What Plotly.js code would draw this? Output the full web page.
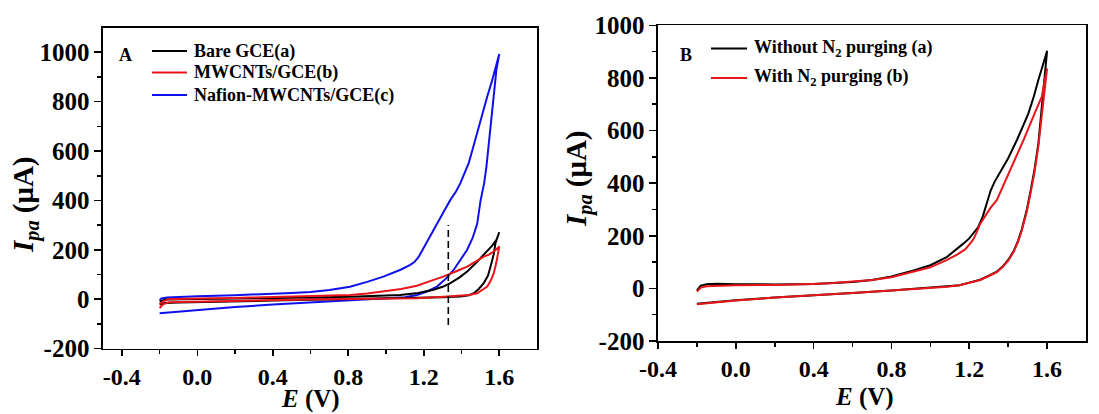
<!DOCTYPE html>
<html><head><meta charset="utf-8">
<script src="https://cdn.plot.ly/plotly-3.0.1.min.js"></script>
<style>html,body{margin:0;padding:0;background:#fff;}#chart{width:1099px;height:414px;}</style>
</head><body><div id="chart"></div>
<script>
// ---------- Panel A data (E in V, I in µA) ----------
const bareGceE = [-0.2,-0.17,-0.1,0.0,0.2,0.4,0.6,0.8,1.0,1.2,1.3,1.394,1.44,1.465,1.49,1.518,1.54,1.554,1.57,1.58,1.6,
  1.585,1.56,1.518,1.475,1.43,1.39,1.341,1.3,1.252,1.17,1.075,0.95,0.809,0.6,0.4,0.2,0.0,-0.1,-0.17,-0.2];
const bareGceI = [-22,-16,-14,-12,-9,-6,-3,0,2,5,8,11,16,24,40,65,95,132,180,227,271,
  240,215,179,145,112,88,65,50,38,25,17,13,10,7,5,3,1,0,-2,-10];

const mwcntE = [-0.2,-0.18,-0.15,0.0,0.2,0.4,0.6,0.8,1.0,1.164,1.305,1.394,1.44,1.483,1.51,1.536,1.555,1.571,1.585,1.6,
  1.575,1.545,1.518,1.475,1.43,1.385,1.341,1.3,1.252,1.2,1.164,1.08,0.986,0.9,0.809,0.6,0.4,0.2,0.0,-0.1,-0.15,-0.18,-0.2];
const mwcntI = [-36,-20,-13,-10,-7,-4,-1,1,3,4,10,13,17,24,38,51,75,105,150,213,
  195,180,172,152,132,117,102,90,78,63,54,41,31,23,17,12,8,5,3,2,0,-8,-20];

const nafionE = [-0.2,-0.1,0.0,0.2,0.4,0.6,0.8,1.0,1.1,1.164,1.22,1.27,1.32,1.359,1.4,1.43,1.46,1.483,1.501,1.52,1.532,1.554,1.571,1.585,1.6,
  1.58,1.56,1.536,1.51,1.483,1.46,1.438,1.415,1.394,1.37,1.341,1.31,1.28,1.24,1.2,1.172,1.15,1.128,1.08,1.03,0.986,0.9,0.809,0.7,0.6,0.5,0.4,0.2,0.0,-0.1,-0.16,-0.19,-0.2];
const nafionI = [-57,-50,-44,-32,-22,-13,-4,2,8,17,32,51,85,119,165,200,250,305,400,470,537,713,850,930,993,
  935,880,820,745,672,610,551,505,470,435,402,360,320,265,210,170,150,139,120,103,91,70,50,37,29,25,21,16,12,10,7,3,-5];

const markerLineE = [1.33, 1.33];
const markerLineI = [-105, 300];

const legendA = ["Bare GCE(a)", "MWCNTs/GCE(b)", "Nafion-MWCNTs/GCE(c)"];

// ---------- Panel B data ----------
const withoutN2E = [-0.2,-0.1,0.0,0.2,0.4,0.6,0.8,0.9,1.0,1.086,1.15,1.2,1.256,1.3,1.342,1.37,1.4,1.427,1.45,1.47,1.496,1.515,1.535,1.555,1.57,1.585,1.6,
  1.585,1.57,1.555,1.53,1.504,1.475,1.445,1.4,1.359,1.33,1.31,1.29,1.27,1.245,1.222,1.2,1.171,1.137,1.086,1.0,0.914,0.8,0.7,0.6,0.5,0.4,0.2,0.1,0.0,-0.1,-0.15,-0.18,-0.2];
const withoutN2I = [-58,-51,-45,-35,-27,-18,-8,-3,2,6,12,22,33,48,64,82,108,140,180,225,300,370,450,550,660,790,903,
  865,830,792,725,665,615,564,495,440,405,372,320,275,232,208,190,171,150,120,88,68,45,32,24,20,17,15,15,16,18,16,10,-8];

const withN2E = [-0.2,-0.1,0.0,0.2,0.4,0.6,0.8,0.9,1.0,1.086,1.15,1.2,1.256,1.3,1.342,1.37,1.4,1.427,1.45,1.47,1.496,1.515,1.535,1.555,1.57,1.585,1.6,
  1.585,1.573,1.55,1.53,1.505,1.479,1.45,1.42,1.393,1.37,1.342,1.308,1.28,1.256,1.239,1.222,1.205,1.179,1.137,1.086,1.0,0.914,0.8,0.7,0.6,0.5,0.4,0.2,0.0,-0.1,-0.15,-0.18,-0.2];
const withN2I = [-60,-52,-46,-35,-27,-18,-8,-3,1,6,12,21,32,47,62,80,105,137,176,220,293,362,440,540,640,740,836,
  780,729,690,652,610,564,515,465,424,385,336,305,275,245,215,188,171,148,128,108,80,63,42,32,25,20,17,13,12,11,8,3,-12];

const legendB = ["Without N<sub>2</sub> purging (a)", "With N<sub>2</sub> purging (b)"];

// ---------- ticks ----------
const xTickVals = [-0.4,0,0.4,0.8,1.2,1.6];
const xTickText = ["-0.4","0.0","0.4","0.8","1.2","1.6"];
const xMinorVals = [-0.2,0.2,0.6,1.0,1.4];
const yTickVals = [-200,0,200,400,600,800,1000];
const yTickText = ["-200","0","200","400","600","800","1000"];
const yMinorValsA = [-100,100,300,500,700,900];
const yMinorValsB = [-100,100,300,500,700,900];

// ---------- styling ----------
const W = 1099, H = 414;
const px = v => v / W, py = v => 1 - v / H;
const FONT = 'Liberation Serif, Times New Roman, serif';
const BLACK = '#000000', RED = '#e8151b', BLUE = '#1010ea';

function line(x, y, color, xa, ya, extra) {
  return Object.assign({x: x, y: y, xaxis: xa, yaxis: ya, type: 'scatter', mode: 'lines',
    line: {color: color, width: 2}, hoverinfo: 'skip'}, extra || {});
}

const traces = [
  line(nafionE, nafionI, BLUE, 'x', 'y'),
  line(bareGceE, bareGceI, BLACK, 'x', 'y'),
  line(mwcntE, mwcntI, RED, 'x', 'y'),
  line(markerLineE, markerLineI, BLACK, 'x', 'y', {line: {color: BLACK, width: 1.6, dash: '7px,4px'}}),
  line(withoutN2E, withoutN2I, BLACK, 'x2', 'y2'),
  line(withN2E, withN2I, RED, 'x2', 'y2')
];

const XTICKFONT = {family: FONT, size: 24, color: BLACK, weight: 'bold'};
const YTICKFONT = {family: FONT, size: 25, color: BLACK, weight: 'bold'};
function xAxis(domain, range, anchor) {
  return {domain: domain, range: range, anchor: anchor, tickmode: 'array', tickvals: xTickVals, ticktext: xTickText,
    ticks: 'outside', ticklen: 6, tickwidth: 1.6, tickcolor: BLACK, showline: true, linecolor: BLACK, linewidth: 1.6,
    mirror: true, showgrid: false, zeroline: false,
    tickfont: XTICKFONT,
    minor: {tickvals: xMinorVals, ticks: 'outside', ticklen: 4, tickwidth: 1.6, tickcolor: BLACK, showgrid: false}};
}
function yAxis(domain, range, anchor, minor) {
  return {domain: domain, range: range, anchor: anchor, tickmode: 'array', tickvals: yTickVals, ticktext: yTickText,
    ticks: 'outside', ticklen: 7, tickwidth: 1.6, tickcolor: BLACK, showline: true, linecolor: BLACK, linewidth: 1.6,
    mirror: true, showgrid: false, zeroline: false,
    tickfont: YTICKFONT,
    minor: {tickvals: minor, ticks: 'outside', ticklen: 4, tickwidth: 1.6, tickcolor: BLACK, showgrid: false}};
}

const annFont = s => ({family: FONT, size: s, color: BLACK, weight: 'bold'});
function ann(text, x, y, size, extra) {
  return Object.assign({text: text, xref: 'paper', yref: 'paper', x: px(x), y: py(y), showarrow: false,
    xanchor: 'center', yanchor: 'middle', font: annFont(size)}, extra || {});
}

const legColorsA = [BLACK, RED, BLUE];
const legRowsA = [51, 72.5, 95];
const legColorsB = [BLACK, RED];
const legRowsB = [48.5, 78];

const annotations = [
  ann('A', 125, 55, 18),
  ann('B', 686, 55, 18),
  ann('<i>E</i> (V)', 310, 399, 25),
  ann('<i>E</i> (V)', 864, 397, 25),
  ann('<i>I</i><sub><i>pa</i></sub> (μA)', 25, 205, 29, {textangle: -90}),
  ann('<i>I</i><sub><i>pa</i></sub> (μA)', 579, 179, 29, {textangle: -90})
];
const shapes = [];
legendA.forEach((t, i) => {
  annotations.push(ann(t, 192, legRowsA[i], 18, {xanchor: 'left'}));
  shapes.push({type: 'line', xref: 'paper', yref: 'paper', x0: px(152), x1: px(187), y0: py(legRowsA[i]), y1: py(legRowsA[i]),
    line: {color: legColorsA[i], width: 2}});
});
legendB.forEach((t, i) => {
  annotations.push(ann(t, 752, legRowsB[i], 18, {xanchor: 'left'}));
  shapes.push({type: 'line', xref: 'paper', yref: 'paper', x0: px(711), x1: px(747), y0: py(legRowsB[i]), y1: py(legRowsB[i]),
    line: {color: legColorsB[i], width: 2}});
});

const layout = {
  width: W, height: H, margin: {l: 0, r: 0, t: 0, b: 0},
  paper_bgcolor: '#ffffff', plot_bgcolor: '#ffffff', showlegend: false,
  font: {family: FONT, color: BLACK},
  xaxis: xAxis([px(103), px(537)], [-0.5, 1.8], 'y'),
  yaxis: yAxis([py(348.5), py(27.6)], [-200, 1100], 'x', yMinorValsA),
  xaxis2: xAxis([px(658), px(1086)], [-0.4, 1.8], 'y2'),
  yaxis2: yAxis([py(341), py(25.3)], [-200, 1000], 'x2', yMinorValsB),
  annotations: annotations,
  shapes: shapes
};

Plotly.newPlot('chart', traces, layout, {displayModeBar: false, staticPlot: true});
</script></body></html>
